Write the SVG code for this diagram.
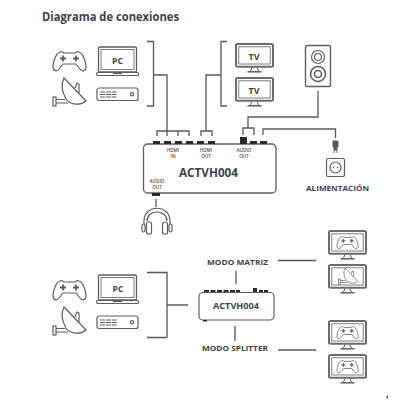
<svg xmlns="http://www.w3.org/2000/svg" width="400" height="400" viewBox="0 0 400 400">
<style>
text{font-family:"Open Sans","Noto Sans","Liberation Sans",sans-serif;font-weight:700;fill:#3f4347;text-anchor:middle}
.l{fill:none;stroke:#5c5f62;stroke-width:1.200}
.c{fill:none;stroke:#55585b;stroke-width:1.300}
.k{fill:#2b2b2b}
.t{font-size:4.600px;font-weight:600;fill:#4a4d50}
</style>
<defs>
<g id="pad" class="l"><path d="M7 2C9 1 10 2 11 3H22C23 2 24 1 26 2C30 3 33 12 33 17C33 21 29 22 27 19L23 14H10L6 19C4 22 0 21 0 17C0 12 3 3 7 2Z"/><path d="M7 8.500h6M10 5.500v6M20 8.500h6M23 5.500v6" stroke-width="1.800"/></g>
<g id="dish" class="l"><path d="M12 0L34 23C28 28 18 27 14 21C10 14 9 6 12 0Z"/><path d="M23 10L25 5L27 6L27 15"/><rect x="1" y="19" width="3" height="9"/><path d="M4 21.500H13M4 25H16"/></g>
<g id="laptop" class="l"><rect x="2.500" y="0" width="38" height="25" rx="1.500" stroke-width="1.300"/><rect x="5" y="2.500" width="33" height="20" stroke-width=".8"/><rect x="0.500" y="25.500" width="42" height="3" rx="1.200" stroke-width="1.200"/><path d="M17 26.500h9" stroke-width="1.200"/></g>
<g id="box" class="l"><rect x="0" y="0" width="41" height="12.500" rx="2"/><path d="M3 4h17M3 6.500h17M3 9h17" stroke-width="1.200" stroke-dasharray="5 .8"/><circle cx="35" cy="6.300" r="1.600"/></g>
<g id="mon" class="l"><rect x="1" y="1" width="37" height="22.800" rx="1.500" stroke-width="2" stroke="#6a6d70"/><rect x="3.800" y="3.800" width="31.400" height="17.200" stroke-width=".8"/><path d="M17 24.500L15.500 28M22 24.500L23.500 28" stroke-width="1"/><path d="M12.500 28.800H26.500" stroke-width="1.500"/></g>
</defs>
<rect width="400" height="400" fill="#fff"/>
<text x="110.500" y="21" font-size="11.500" textLength="137" lengthAdjust="spacingAndGlyphs" id="title">Diagrama de conexiones</text>

<g id="connectors" class="c">
<path d="M147 41.500H153.500V106H147M153.500 75H167V136M157 136V131H189V136M178 131V136"/>
<path d="M227 41.500H221V106H227M221 75H206V131M201 136V131H212V136"/>
<path d="M318 91V117H248V128M243 135V128H254V135"/>
<path d="M263 135V129H335.500V138"/>
<path d="M156 199V207"/>
<path d="M147 272.500H167V337.500H147M167 305H188"/>
<path d="M278 260.500H316M236 271V284M235 326V341M278 350H316"/>
</g>

<g id="gamepad-a"><use href="#pad" x="53" y="50"/></g>
<g id="laptop-a"><use href="#laptop" x="96" y="47"/><text x="117.500" y="64" font-size="8.500">PC</text></g>
<g id="dish-a"><use href="#dish" x="52" y="78"/></g>
<g id="box-a"><use href="#box" x="97" y="88"/></g>

<g id="tv-a"><use href="#mon" x="235" y="43"/><text x="254" y="60" font-size="9">TV</text></g>
<g id="tv-b"><use href="#mon" x="235" y="77"/><text x="254" y="94" font-size="9">TV</text></g>
<g id="speaker" class="l"><rect x="305.500" y="45.500" width="25" height="41" rx="1.500" stroke-width="1.400"/><circle cx="318" cy="57" r="6.500"/><circle cx="318" cy="57" r="3.500"/><circle cx="318" cy="74" r="7.500" stroke-width="1.600"/><circle cx="318" cy="74" r="3.500" stroke-width="1.600"/></g>

<g id="switch-main">
<rect x="143.500" y="144" width="132.500" height="49" rx="4" fill="#fff" stroke="#5c5f62" stroke-width="1.300"/>
<rect class="k" x="153" y="141" width="7" height="3"/><rect class="k" x="164" y="141" width="7" height="3"/><rect class="k" x="175" y="141" width="7" height="3"/><rect class="k" x="186" y="141" width="7" height="3"/><rect class="k" x="197" y="141" width="7" height="3"/><rect class="k" x="208" y="141" width="7" height="3"/><rect class="k" x="240" y="137" width="7" height="7"/><rect class="k" x="250" y="141" width="7" height="3"/><rect class="k" x="260" y="141" width="7" height="3"/><rect class="k" x="152" y="193" width="8" height="3"/>
<text class="t" x="173" y="151.500">HDMI</text><text class="t" x="173" y="157.500">IN</text>
<text class="t" x="206" y="151.500">HDMI</text><text class="t" x="206" y="157.500">OUT</text>
<text class="t" x="244" y="151.500">AUDIO</text><text class="t" x="244" y="157.500">OUT</text>
<text class="t" x="157" y="183">AUDIO</text><text class="t" x="157" y="188.500">OUT</text>
<text x="208.500" y="177" font-size="11.500" textLength="59" lengthAdjust="spacingAndGlyphs">ACTVH004</text>
</g>

<g id="plug" class="l"><path d="M333 141H338V147H337V150H334V147H333Z" fill="#555" stroke-width="1"/><path d="M334 150V153M337 150V153" stroke-width="1"/></g>
<g id="socket" class="l"><rect x="326.500" y="158.500" width="18" height="18" rx="1.500"/><circle cx="335.500" cy="167.500" r="5.500"/><circle cx="333.500" cy="167.500" r=".7" fill="#555" stroke="none"/><circle cx="337.500" cy="167.500" r=".7" fill="#555" stroke="none"/></g>
<g id="power-label"><text x="337.500" y="191" font-size="7.500" textLength="63" lengthAdjust="spacingAndGlyphs">ALIMENTACIÓN</text></g>

<g id="headphones" class="l"><path d="M144 224V221C144 204 170 204 170 221V224"/><path d="M147 221C147 209 167 209 167 221"/><rect x="142" y="224" width="3" height="8" rx="1.500"/><rect x="146.500" y="222" width="5" height="12" rx="2"/><rect x="162.500" y="222" width="5" height="12" rx="2"/><rect x="169" y="224" width="3" height="8" rx="1.500"/></g>

<g id="gamepad-b"><use href="#pad" x="53" y="279"/></g>
<g id="laptop-b"><use href="#laptop" x="96" y="275"/><text x="118" y="292" font-size="8.500">PC</text></g>
<g id="dish-b"><use href="#dish" x="52" y="307"/></g>
<g id="box-b"><use href="#box" x="97" y="316"/></g>

<g id="switch-small">
<rect x="199" y="292.500" width="75" height="27.500" rx="4" fill="#fff" stroke="#5c5f62" stroke-width="1.200"/>
<rect class="k" x="204" y="290" width="5" height="2"/><rect class="k" x="210.500" y="290" width="5" height="2"/><rect class="k" x="217" y="290" width="5" height="2"/><rect class="k" x="223.500" y="290" width="5" height="2"/><rect class="k" x="230" y="290" width="5" height="2"/><rect class="k" x="236" y="290" width="4" height="2"/><rect class="k" x="253" y="288" width="4" height="4"/><rect class="k" x="259" y="290" width="4" height="2"/><rect class="k" x="264" y="290" width="4" height="2"/><rect class="k" x="203" y="320" width="4" height="1.500"/>
<text x="236" y="309" font-size="8.500" textLength="46" lengthAdjust="spacingAndGlyphs">ACTVH004</text>
</g>
<g id="label-matriz"><text x="237.500" y="265" font-size="7.500" textLength="61" lengthAdjust="spacingAndGlyphs">MODO MATRIZ</text></g>
<g id="label-splitter"><text x="235" y="351" font-size="7.500" textLength="66" lengthAdjust="spacingAndGlyphs">MODO SPLITTER</text></g>

<g id="monitor-1"><use href="#mon" x="328" y="230"/><use href="#pad" transform="translate(337 235.500) scale(.64)"/></g>
<g id="monitor-2"><use href="#mon" x="328" y="264"/><use href="#dish" transform="translate(338 268) scale(.58)"/></g>
<g id="monitor-3"><use href="#mon" x="328" y="320"/><use href="#pad" transform="translate(337 325.500) scale(.64)"/></g>
<g id="monitor-4"><use href="#mon" x="328" y="354"/><use href="#pad" transform="translate(337 359.500) scale(.64)"/></g>
<rect id="mark" x="386.500" y="396" width="1.500" height="2.500" fill="#6b4a2a"/>
</svg>
